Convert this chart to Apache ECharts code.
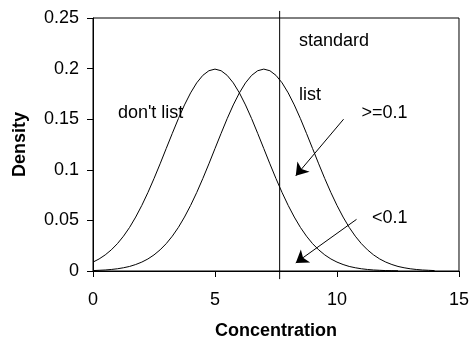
<!DOCTYPE html>
<html>
<head>
<meta charset="utf-8">
<script src="https://cdn.jsdelivr.net/npm/echarts@6/dist/echarts.min.js"></script>
<style>
  html, body { margin: 0; padding: 0; background: #fff; }
  #chart { width: 472px; height: 345px; }
</style>
</head>
<body>
<div id="chart"></div>
<script>
// concentration values along the x axis (step 0.25)
var xs = [0, 0.25, 0.5, 0.75, 1, 1.25, 1.5, 1.75, 2, 2.25, 2.5, 2.75, 3, 3.25, 3.5, 3.75,
  4, 4.25, 4.5, 4.75, 5, 5.25, 5.5, 5.75, 6, 6.25, 6.5, 6.75, 7, 7.25, 7.5, 7.75,
  8, 8.25, 8.5, 8.75, 9, 9.25, 9.5, 9.75, 10, 10.25, 10.5, 10.75, 11, 11.25, 11.5, 11.75,
  12, 12.25, 12.5, 12.75, 13, 13.25, 13.5, 13.75, 14];

// "don't list" curve (peak at 5)
var dontList = [0.0088, 0.0119, 0.0159, 0.0209, 0.0270, 0.0344, 0.0431, 0.0533, 0.0648, 0.0775,
  0.0913, 0.1059, 0.1210, 0.1360, 0.1506, 0.1641, 0.1760, 0.1859, 0.1933, 0.1979,
  0.1995, 0.1979, 0.1933, 0.1859, 0.1760, 0.1641, 0.1506, 0.1360, 0.1210, 0.1059,
  0.0913, 0.0775, 0.0648, 0.0533, 0.0431, 0.0344, 0.0270, 0.0209, 0.0159, 0.0119,
  0.0088, 0.0064, 0.0045, 0.0032, 0.0022, 0.0015, 0.0010, 0.0007, 0.0004, 0.0003, 0.0002];

// "list" curve (peak at 7)
var list = [0.0004, 0.0007, 0.0010, 0.0015, 0.0022, 0.0032, 0.0045, 0.0064, 0.0088, 0.0119,
  0.0159, 0.0209, 0.0270, 0.0344, 0.0431, 0.0533, 0.0648, 0.0775, 0.0913, 0.1059,
  0.1210, 0.1360, 0.1506, 0.1641, 0.1760, 0.1859, 0.1933, 0.1979, 0.1995, 0.1979,
  0.1933, 0.1859, 0.1760, 0.1641, 0.1506, 0.1360, 0.1210, 0.1059, 0.0913, 0.0775,
  0.0648, 0.0533, 0.0431, 0.0344, 0.0270, 0.0209, 0.0159, 0.0119, 0.0088, 0.0064,
  0.0045, 0.0032, 0.0022, 0.0015, 0.0010, 0.0007, 0.0004];

// the standard (vertical line)
var standardX = 7.65;
var standardLine = [[standardX, 0.257], [standardX, -0.008]];

// text notes [x, y, text]
var notes = [
  [8.44, 0.227, 'standard'],
  [8.44, 0.174, 'list'],
  [1.02, 0.156, "don't list"],
  [11.0, 0.156, '>=0.1'],
  [11.43, 0.052, '<0.1']
];

// arrows [from, to]
var arrows = [
  [[10.27, 0.150], [8.31, 0.094]],
  [[10.80, 0.051], [8.31, 0.008]]
];

function pairs(x, y) {
  var out = [];
  for (var i = 0; i < y.length; i++) {
    out.push([x[i], y[i]]);
  }
  return out;
}

var font = "'Liberation Sans', Arial, sans-serif";
var chart = echarts.init(document.getElementById('chart'));

chart.setOption({
  animation: false,
  textStyle: { fontFamily: font },
  grid: {
    left: 93, right: 13, top: 18, bottom: 70,
    show: true, borderColor: '#000', borderWidth: 1
  },
  xAxis: {
    type: 'value', min: 0, max: 15, interval: 5,
    name: 'Concentration', nameLocation: 'middle', nameGap: 51,
    nameTextStyle: { color: '#000', fontSize: 18, fontWeight: 'bold', fontFamily: font },
    axisLine: { lineStyle: { color: '#000', width: 1 } },
    axisTick: { length: 6, lineStyle: { color: '#000' } },
    axisLabel: { color: '#000', fontSize: 18, margin: 20, fontFamily: font },
    splitLine: { show: false }
  },
  yAxis: {
    type: 'value', min: 0, max: 0.25, interval: 0.05,
    name: 'Density', nameLocation: 'middle', nameGap: 64,
    nameTextStyle: { color: '#000', fontSize: 18, fontWeight: 'bold', fontFamily: font },
    axisLine: { show: true, lineStyle: { color: '#000', width: 1 } },
    axisTick: { show: true, length: 6, lineStyle: { color: '#000' } },
    axisLabel: { color: '#000', fontSize: 18, margin: 14, padding: [5, 0, 0, 0], fontFamily: font },
    splitLine: { show: false }
  },
  series: [
    {
      name: "don't list", type: 'line', data: pairs(xs, dontList),
      symbol: 'none', lineStyle: { color: '#000', width: 1 }
    },
    {
      name: 'list', type: 'line', data: pairs(xs, list),
      symbol: 'none', lineStyle: { color: '#000', width: 1 }
    },
    {
      name: 'standard', type: 'line', data: standardLine, clip: false,
      symbol: 'none', lineStyle: { color: '#000', width: 1 }
    },
    {
      type: 'lines', coordinateSystem: 'cartesian2d',
      data: arrows.map(function (a) { return { coords: a }; }),
      symbol: ['none', 'arrow'], symbolSize: 12,
      itemStyle: { color: '#000' },
      lineStyle: { color: '#000', width: 1, opacity: 1 }
    },
    {
      type: 'scatter', symbolSize: 0,
      data: notes.map(function (n) { return { value: [n[0], n[1]], name: n[2] }; }),
      label: {
        show: true, position: 'right', distance: 0,
        formatter: function (p) { return p.name; },
        color: '#000', opacity: 1, fontSize: 18, fontFamily: font
      }
    }
  ]
});
</script>
</body>
</html>
